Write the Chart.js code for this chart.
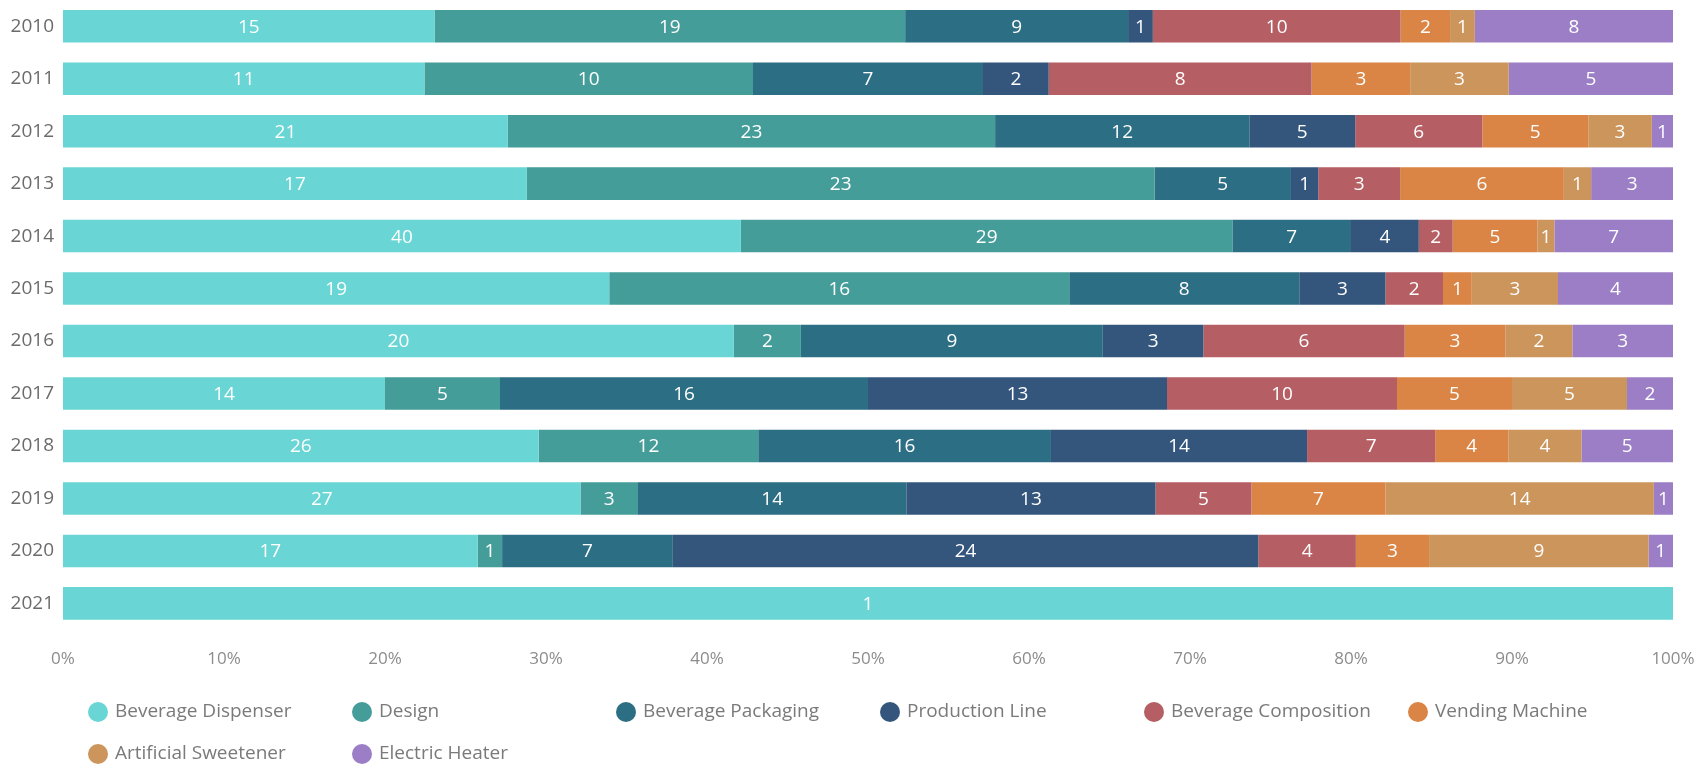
<!DOCTYPE html>
<html>
<head>
<meta charset="utf-8">
<script src="https://cdn.jsdelivr.net/npm/chart.js@4.4.1/dist/chart.umd.min.js"></script>
<style>
  html, body { margin: 0; padding: 0; background: #fff; }
  #wrap { width: 1701px; height: 764px; position: relative; }
</style>
</head>
<body>
<div id="wrap"><canvas id="bar_chart"></canvas></div>
<script>
const years = ["2010", "2011", "2012", "2013", "2014", "2015", "2016", "2017", "2018", "2019", "2020", "2021"];
const beverageDispenser = [15, 11, 21, 17, 40, 19, 20, 14, 26, 27, 17, 1];
const design = [19, 10, 23, 23, 29, 16, 2, 5, 12, 3, 1, 0];
const beveragePackaging = [9, 7, 12, 5, 7, 8, 9, 16, 16, 14, 7, 0];
const productionLine = [1, 2, 5, 1, 4, 3, 3, 13, 14, 13, 24, 0];
const beverageComposition = [10, 8, 6, 3, 2, 2, 6, 10, 7, 5, 4, 0];
const vendingMachine = [2, 3, 5, 6, 5, 1, 3, 5, 4, 7, 3, 0];
const artificialSweetener = [1, 3, 3, 1, 1, 3, 2, 5, 4, 14, 9, 0];
const electricHeater = [8, 5, 1, 3, 7, 4, 3, 2, 5, 1, 1, 0];
const xTickLabels = ["0%", "10%", "20%", "30%", "40%", "50%", "60%", "70%", "80%", "90%", "100%"];

const series = [
  { label: "Beverage Dispenser", values: beverageDispenser, color: "#69d5d5" },
  { label: "Design", values: design, color: "#459d9a" },
  { label: "Beverage Packaging", values: beveragePackaging, color: "#2c6e83" },
  { label: "Production Line", values: productionLine, color: "#34567d" },
  { label: "Beverage Composition", values: beverageComposition, color: "#b55e63" },
  { label: "Vending Machine", values: vendingMachine, color: "#da8545" },
  { label: "Artificial Sweetener", values: artificialSweetener, color: "#cc955c" },
  { label: "Electric Heater", values: electricHeater, color: "#9b7ec6" },
];

const totals = years.map((y, i) => series.reduce((s, d) => s + d.values[i], 0));

const FONT = "'Open Sans', 'Noto Sans', sans-serif";

// white value labels in the middle of each segment
const valueLabels = {
  id: "valueLabels",
  afterDatasetsDraw(chart) {
    const ctx = chart.ctx;
    ctx.save();
    ctx.fillStyle = "#ffffff";
    ctx.font = "19px " + FONT;
    ctx.textAlign = "center";
    ctx.textBaseline = "middle";
    chart.data.datasets.forEach((ds, di) => {
      const meta = chart.getDatasetMeta(di);
      meta.data.forEach((bar, i) => {
        const raw = series[di].values[i];
        if (!raw) return;
        const p = bar.getProps(["x", "y", "base"], true);
        ctx.fillText(raw, (p.x + p.base) / 2, p.y + 1);
      });
    });
    ctx.restore();
  },
};

// grid legend under the chart
const gridLegend = {
  id: "gridLegend",
  afterDraw(chart) {
    const ctx = chart.ctx;
    const startX = 98;
    const colW = 264;
    const rowY = [712, 754];
    ctx.save();
    ctx.font = "19px " + FONT;
    ctx.textBaseline = "middle";
    ctx.textAlign = "left";
    chart.data.datasets.forEach((ds, i) => {
      const col = i % 6;
      const row = Math.floor(i / 6);
      const cx = startX + col * colW;
      const cy = rowY[row];
      ctx.fillStyle = ds.backgroundColor;
      ctx.beginPath();
      ctx.arc(cx, cy, 10, 0, Math.PI * 2);
      ctx.fill();
      ctx.fillStyle = "#7a7a7a";
      ctx.fillText(ds.label, cx + 17, cy);
    });
    ctx.restore();
  },
};

const ctx = document.getElementById("bar_chart").getContext("2d");
new Chart(ctx, {
  type: "bar",
  data: {
    labels: years,
    datasets: series.map((s) => ({
      label: s.label,
      data: s.values.map((v, i) => (v / totals[i]) * 100),
      backgroundColor: s.color,
      borderWidth: 0,
      barPercentage: 0.62,
      categoryPercentage: 1,
    })),
  },
  options: {
    indexAxis: "y",
    responsive: true,
    maintainAspectRatio: false,
    animation: false,
    layout: {
      padding: { left: 9, right: 28, top: 0, bottom: 76 },
    },
    plugins: {
      legend: { display: false },
      tooltip: { enabled: false },
    },
    scales: {
      x: {
        stacked: true,
        min: 0,
        max: 100,
        grid: { display: false, drawTicks: false },
        border: { display: false },
        afterFit: (scale) => {
          scale.paddingLeft = 0;
          scale.paddingRight = 0;
        },
        ticks: {
          stepSize: 10,
          padding: 19,
          color: "#8c8c8c",
          font: { family: FONT, size: 17 },
          maxRotation: 0,
          callback: (v) => xTickLabels[v / 10],
        },
      },
      y: {
        stacked: true,
        grid: { display: false, drawTicks: false },
        border: { display: false },
        afterFit: (scale) => {
          scale.width = 54;
          scale.paddingTop = 0;
          scale.paddingBottom = 0;
        },
        ticks: {
          padding: 9,
          color: "#6b6b6b",
          font: { family: FONT, size: 19 },
        },
      },
    },
  },
  plugins: [valueLabels, gridLegend],
});
</script>
</body>
</html>
